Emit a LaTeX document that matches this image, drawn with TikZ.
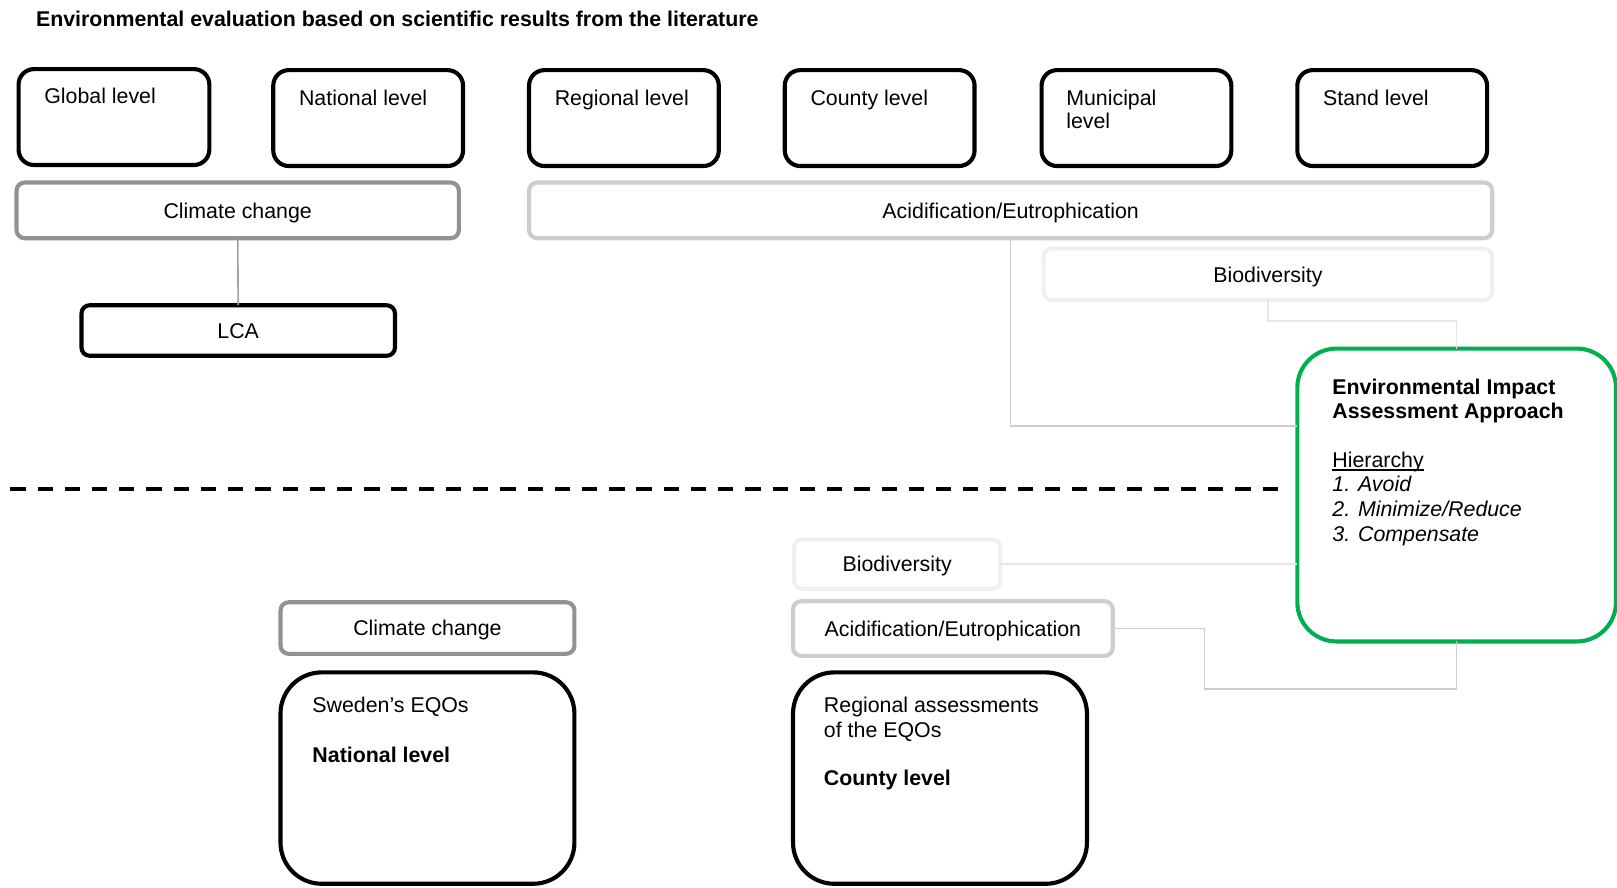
\documentclass[tikz,border=0pt]{standalone}
\usepackage{fontspec}
\setmainfont{Liberation Sans}
\usetikzlibrary{fit}
\definecolor{ccgray}{HTML}{929292}
\definecolor{aegray}{HTML}{CDCDCD}
\definecolor{biogray}{HTML}{F0F0F0}
\definecolor{bioline}{HTML}{E6E6E6}
\definecolor{ccline}{HTML}{A0A0A0}
\definecolor{eiagreen}{HTML}{00B050}
\newcommand{\txt}{\fontsize{10.35}{11.75}\selectfont}
\begin{document}
\begin{tikzpicture}[x=0.5pt,y=-0.5pt,
  every node/.style={font=\txt, inner sep=0pt, outer sep=0pt},
  lvlbox/.style={draw=black, line width=2pt, rounded corners=7.5pt, fill=white, fit={#1}},
  lowbox/.style={draw=black, line width=2pt, rounded corners=20pt, fill=white, fit={#1}},
  thinbox/.style={draw=black, line width=2pt, rounded corners=4pt, fill=white, fit={#1}},
  ccbox/.style={draw=ccgray, line width=2pt, rounded corners=4pt, fill=white, fit={#1}},
  aebox/.style={draw=aegray, line width=2pt, rounded corners=4pt, fill=white, fit={#1}},
  biobox/.style={draw=biogray, line width=2pt, rounded corners=4pt, fill=white, fit={#1}},
  eiabox/.style={draw=eiagreen, line width=2pt, rounded corners=19pt, fill=white, fit={#1}},
  link/.style={line width=0.8pt},
  sepline/.style={line width=1.9pt, dash pattern=on 7.4pt off 5.8pt},
  lbl/.style={anchor=base west},
  ctr/.style={anchor=base},
  boldlbl/.style={anchor=base west, font=\txt\bfseries},
  itlbl/.style={anchor=base west, font=\txt\itshape}]

\useasboundingbox (0,0) rectangle (1568,861);

% heading
\node[boldlbl] (title) at (35,26) {Environmental evaluation based on scientific results from the literature};

% spatial levels
\node[lvlbox={(18,67)(203,160)}] (glob) {};
\node[lvlbox={(265,68)(449,161)}] (natl) {};
\node[lvlbox={(513,68)(697,161)}] (regl) {};
\node[lvlbox={(761,68)(945,161)}] (cnty) {};
\node[lvlbox={(1010,68)(1194,161)}] (muni) {};
\node[lvlbox={(1258,68)(1442,161)}] (stand) {};
\node[lbl] (glob-t) at (43,100) {Global level};
\node[lbl] (natl-t) at (290,102) {National level};
\node[lbl] (regl-t) at (538,102) {Regional level};
\node[lbl] (cnty-t) at (786,102) {County level};
\node[lbl] (muni-t1) at (1034,102) {Municipal};
\node[lbl] (muni-t2) at (1034,125) {level};
\node[lbl] (stand-t) at (1283,102) {Stand level};

% impact categories, upper part
\node[ccbox={(16,177)(445,231)}] (cc1) {};
\node[aebox={(513,177)(1447,231)}] (ae1) {};
\node[biobox={(1012,241)(1447,291)}] (bio1) {};
\node[thinbox={(79,296)(383,345)}] (lca) {};
\node[ctr] (cc1-t) at ([yshift=-3.75pt]cc1.center) {Climate change};
\node[ctr] (ae1-t) at ([yshift=-3.75pt]ae1.center) {Acidification/Eutrophication};
\node[ctr] (bio1-t) at ([yshift=-3.75pt]bio1.center) {Biodiversity};
\node[ctr] (lca-t) at ([yshift=-3.75pt]lca.center) {LCA};

% environmental impact assessment
\node[eiabox={(1258,338)(1567,622)}] (eia) {};
\node[boldlbl] (eia-t1) at (1292,383) {Environmental Impact};
\node[boldlbl] (eia-t2) at (1292,406) {Assessment Approach};
\node[lbl] (eia-t3) at (1292,453.5) {Hierarchy};
\draw[line width=0.75pt] ([yshift=-1pt]eia-t3.base west) -- ([yshift=-1pt]eia-t3.base east);
\node[itlbl] (eia-t4) at (1292,477) {1. Avoid};
\node[itlbl] (eia-t5) at (1292,501) {2. Minimize/Reduce};
\node[itlbl] (eia-t6) at (1292,525) {3. Compensate};

% separator
\coordinate (dashL) at (10,474);
\coordinate (dashR) at (1246,474);
\draw[sepline] (dashL) -- (dashR);

% lower part
\node[biobox={(770,523)(970,571)}] (bio2) {};
\node[aebox={(769,583)(1079,636)}] (ae2) {};
\node[ccbox={(272,584)(557,634)}] (cc2) {};
\node[ctr] (bio2-t) at ([yshift=-3.75pt]bio2.center) {Biodiversity};
\node[ctr] (ae2-t) at ([yshift=-3.75pt]ae2.center) {Acidification/Eutrophication};
\node[ctr] (cc2-t) at ([yshift=-3.75pt]cc2.center) {Climate change};
\node[lowbox={(272,652)(557,857)}] (eqo) {};
\node[lowbox={(769,652)(1054,857)}] (reg) {};
\node[lbl] (eqo-t1) at (303,691) {Sweden’s EQOs};
\node[boldlbl] (eqo-t2) at (303,739) {National level};
\node[lbl] (reg-t1) at (799,691) {Regional assessments};
\node[lbl] (reg-t2) at (799,715) {of the EQOs};
\node[boldlbl] (reg-t3) at (799,762) {County level};

% connectors
\coordinate (y413) at (0,413);
\coordinate (ae2k) at (1168,668);
\draw[link, draw=ccline] (cc1.south) -- (lca.north);
\draw[link, draw=aegray] (ae1.south) |- (eia.west |- y413);
\draw[link, draw=bioline] (bio1.south) -- ++(0,20) -| (eia.north);
\draw[link, draw=bioline] (bio2.east) -- (bio2.east -| eia.west);
\draw[link, draw=aegray] (ae2.east) -| (ae2k) -| (eia.south);
\end{tikzpicture}
\end{document}
